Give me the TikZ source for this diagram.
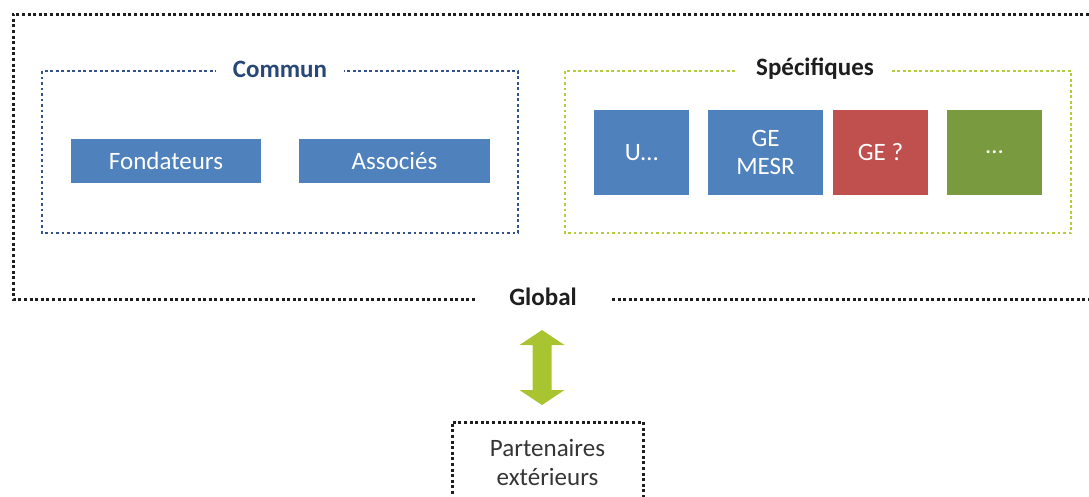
\documentclass[tikz,border=0pt]{standalone}
\usepackage{fontspec}
\setmainfont{Carlito}
\definecolor{boxblue}{HTML}{4F81BD}
\definecolor{boxred}{HTML}{C0504D}
\definecolor{boxgreen}{HTML}{7A9A3F}
\definecolor{arrowgreen}{HTML}{A8C531}
\definecolor{specline}{HTML}{B2CE3C}
\definecolor{comline}{HTML}{34538A}
\definecolor{comtext}{HTML}{274877}
\definecolor{outline}{HTML}{1E1E1E}
\tikzset{
  dotline/.style={line width=3pt, dash pattern=on 3pt off 2.6pt},
  grpline/.style={line width=2.6pt, dash pattern=on 2.6pt off 2.9pt},
  colbox/.style={fill=#1, draw=none, text=white, font=\fontsize{25}{30}\selectfont, align=center, inner sep=0pt},
  grplabel/.style={fill=white, font=\bfseries\fontsize{25}{30}\selectfont, inner ysep=2pt},
}
\begin{document}
\begin{tikzpicture}[x=1pt,y=-1pt]
\useasboundingbox (0,0) rectangle (1089,496);
\clip (0,0) rectangle (1089,496);
% outer global frame
\draw[dotline, draw=outline] (1089,14) -- (13,14) -- (13,299) -- (1089,299);
\node[grplabel, text=outline, inner xsep=32pt] (global) at (543,297) {Global};
% Commun group
\draw[grpline, draw=comline] (42,71) rectangle (518,233);
\node[grplabel, text=comtext, inner xsep=17pt] (commun) at (280,69) {Commun};
\node[colbox=boxblue, minimum width=190pt, minimum height=44pt] (fond) at (166,161) {Fondateurs};
\node[colbox=boxblue, minimum width=191pt, minimum height=44pt] (assoc) at (394.5,161) {Associés};
% Specifiques group
\draw[grpline, draw=specline] (565,71) rectangle (1071,233);
\node[grplabel, text=outline, inner xsep=18pt] (spec) at (815,69) {Spécifiques};
\node[colbox=boxblue, minimum width=95pt, minimum height=85pt] (u) at (641.5,152.5) {U…};
\node[colbox=boxblue, minimum width=115pt, minimum height=85pt] (gemesr) at (765.5,152.5) {GE\\[-2pt]MESR};
\node[colbox=boxred, minimum width=95pt, minimum height=85pt] (gered) at (880.5,152.5) {GE ?};
\node[colbox=boxgreen, minimum width=95pt, minimum height=85pt] (etc) at (994.5,152.5) {…};
% external partners
\node[draw=outline, dotline, minimum width=191pt, minimum height=81pt, align=center, inner sep=0pt,
      font=\fontsize{25}{29}\selectfont, text=outline!90] (part) at (547.5,462.5) {Partenaires\\extérieurs};
% double arrow between Global and partners
\fill[arrowgreen] (542,330) -- (564.5,345) -- (551.5,345) -- (551.5,390) -- (564.5,390)
  -- (542,405) -- (519.5,390) -- (532.5,390) -- (532.5,345) -- (519.5,345) -- cycle;
\end{tikzpicture}
\end{document}
